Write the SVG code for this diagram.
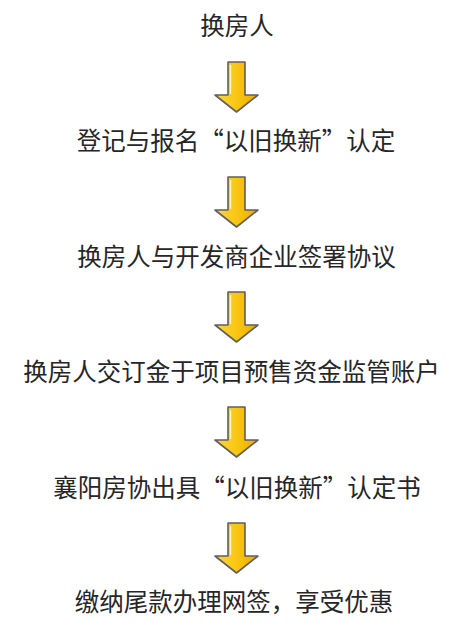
<svg xmlns="http://www.w3.org/2000/svg" width="459" height="629" viewBox="0 0 459 629">
<style>
.t{font-family:"Noto Sans CJK SC","Noto Sans",sans-serif;font-size:24.5px;fill:#262626;text-anchor:middle}
.ar{fill:url(#yg);stroke:#5f5f5f;stroke-width:1.6;stroke-linejoin:round}
.hl{fill:none;stroke:#fff6c8;stroke-width:1.5;opacity:0.9}
</style>
<defs>
<linearGradient id="yg" x1="0" y1="0" x2="1" y2="0">
<stop offset="0" stop-color="#ffd83a"/>
<stop offset="0.6" stop-color="#f7c20c"/>
<stop offset="1" stop-color="#e9a800"/>
</linearGradient>
<g id="arrow">
<path class="ar" d="M228,0 L245,0 L245,33 L258,33 L236.5,50 L215,33 L228,33 Z"/>
<path class="hl" d="M230.5,3 L230.5,32"/>
</g>
</defs>
<rect width="459" height="629" fill="#fff"/>
<g id="connectors">
<use href="#arrow" y="62"/>
<use href="#arrow" y="177"/>
<use href="#arrow" y="292"/>
<use href="#arrow" y="407"/>
<use href="#arrow" y="523"/>
</g>
<g id="n1"><text class="t" x="237" y="35">换房人</text></g>
<g id="n2"><text class="t" x="236" y="150">登记与报名“以旧换新”认定</text></g>
<g id="n3"><text class="t" x="236.5" y="266">换房人与开发商企业签署协议</text></g>
<g id="n4"><text class="t" x="231.5" y="381">换房人交订金于项目预售资金监管账户</text></g>
<g id="n5"><text class="t" x="237" y="497">襄阳房协出具“以旧换新”认定书</text></g>
<g id="n6"><text class="t" x="234" y="611">缴纳尾款办理网签，享受优惠</text></g>
</svg>
